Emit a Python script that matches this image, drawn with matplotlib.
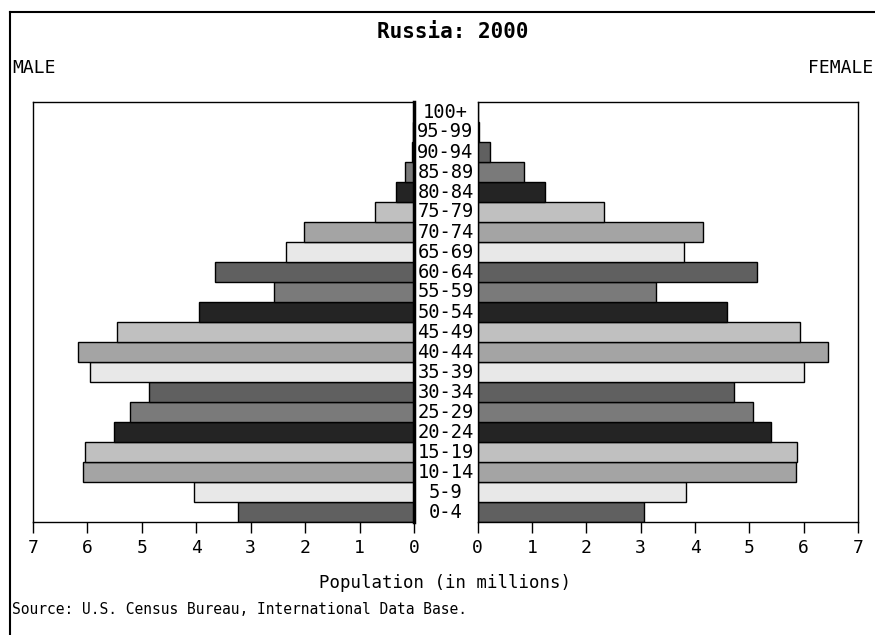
import matplotlib
matplotlib.use("Agg")
import matplotlib.pyplot as plt
from matplotlib.lines import Line2D
import numpy as np

ages = ["0-4", "5-9", "10-14", "15-19", "20-24", "25-29", "30-34", "35-39",
        "40-44", "45-49", "50-54", "55-59", "60-64", "65-69", "70-74", "75-79",
        "80-84", "85-89", "90-94", "95-99", "100+"]
male = [3.24, 4.05, 6.09, 6.05, 5.52, 5.22, 4.87, 5.96, 6.18, 5.45, 3.95,
        2.57, 3.66, 2.35, 2.02, 0.71, 0.33, 0.16, 0.04, 0.01, 0.0]
female = [3.06, 3.83, 5.85, 5.88, 5.40, 5.07, 4.72, 6.00, 6.45, 5.94, 4.58,
          3.28, 5.15, 3.80, 4.15, 2.33, 1.24, 0.85, 0.22, 0.03, 0.0]
shades = ["#606060", "#e8e8e8", "#a4a4a4", "#c0c0c0", "#242424", "#7a7a7a"]
ticks = [0, 1, 2, 3, 4, 5, 6, 7]

font = "DejaVu Sans Mono"
W, H = 875, 635
fig = plt.figure(figsize=(W / 100, H / 100), dpi=100)

y = np.arange(len(ages))
colors = [shades[i % len(shades)] for i in range(len(ages))]

axL = fig.add_axes([33 / W, 1 - 522 / H, 381 / W, 420 / H])
axR = fig.add_axes([477.7 / W, 1 - 522 / H, 380.3 / W, 420 / H])

axL.barh(y, male, height=1.0, color=colors, edgecolor="black", linewidth=1)
axR.barh(y, female, height=1.0, color=colors, edgecolor="black", linewidth=1)

for ax in (axL, axR):
    ax.set_xlim(0, 7)
    ax.set_ylim(-0.5, len(ages) - 0.5)
    ax.set_yticks([])
    ax.set_xticks(ticks)
    ax.set_xticklabels([str(t) for t in ticks], family=font, fontsize=13)
    ax.tick_params(axis="x", direction="out", length=8, width=1, pad=4)
    for s in ax.spines.values():
        s.set_linewidth(1)
axL.invert_xaxis()
axL.spines["right"].set_linewidth(2.5)

# age labels in the middle gap
for i, a in enumerate(ages):
    fig.text(445.5 / W, 1 - (512 - 20 * i) / H, a, ha="center", va="center",
             family=font, fontsize=13.5)

fig.text(453 / W, 1 - 32 / H, "Russia: 2000", ha="center", va="center",
         family=font, fontsize=15, fontweight="bold")
fig.text(12 / W, 1 - 68 / H, "MALE", ha="left", va="center", family=font, fontsize=13)
fig.text(873 / W, 1 - 68 / H, "FEMALE", ha="right", va="center", family=font, fontsize=13)
fig.text(445 / W, 1 - 583 / H, "Population (in millions)", ha="center", va="center",
         family=font, fontsize=12.5)
fig.text(12 / W, 1 - 610 / H, "Source: U.S. Census Bureau, International Data Base.",
         ha="left", va="center", family=font, fontsize=10.5)

# outer frame (left and top)
fig.add_artist(Line2D([10 / W, 10 / W], [0, 1 - 12 / H], color="black", lw=1.5))
fig.add_artist(Line2D([10 / W, 1], [1 - 12 / H, 1 - 12 / H], color="black", lw=1.5))

fig.savefig("out.png", dpi=100)
